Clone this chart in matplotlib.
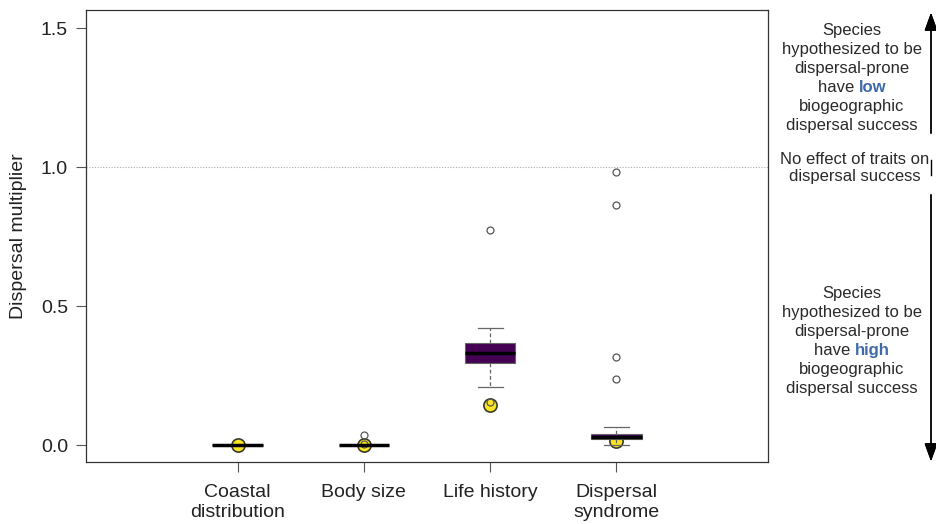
import matplotlib.pyplot as plt
from matplotlib.offsetbox import TextArea, HPacker, VPacker, AnnotationBbox

plt.rcParams['font.family'] = ['Liberation Sans', 'DejaVu Sans']

# summary stats
groups = ["Coastal\ndistribution", "Body size", "Life history", "Dispersal\nsyndrome"]
q1 = [0.0, 0.0, 0.295, 0.022]
med = [0.0, 0.0, 0.332, 0.030]
q3 = [0.0, 0.0, 0.368, 0.040]
whislo = [0.0, 0.0, 0.209, 0.0]
whishi = [0.0, 0.0, 0.421, 0.064]
fliers = [[], [0.035, 0.003], [0.772, 0.155], [0.983, 0.862, 0.315, 0.239]]
observed = [[0.0], [0.0], [0.145], [0.015]]

pos = list(range(1, len(groups) + 1))

fig = plt.figure(figsize=(9.36, 5.24), dpi=100)
ax = fig.add_axes([86/936, 62/524, (768-86)/936, (462-10)/524])

# observed values (yellow points), under the boxes
for p, vals in zip(pos, observed):
    ax.plot([p]*len(vals), vals, 'o', ms=9.5, mfc='#FDE725', mec='#3a3a2a',
            mew=1.2, zorder=1)

stats = []
for i in range(len(groups)):
    stats.append(dict(med=med[i], q1=q1[i], q3=q3[i], whislo=whislo[i],
                      whishi=whishi[i], fliers=fliers[i]))

ax.bxp(stats, positions=pos, widths=0.4, patch_artist=True,
       boxprops=dict(facecolor='#440154', edgecolor='#666666', lw=0.8),
       medianprops=dict(color='black', lw=2.5),
       whiskerprops=dict(color='#666666', lw=0.9, ls=(0, (3, 2))),
       capprops=dict(color='#666666', lw=0.9),
       flierprops=dict(marker='o', mfc='none', mec='#555555', ms=5, mew=0.9),
       capwidths=0.2, zorder=2)

ax.axhline(1.0, color='#aaaaaa', lw=0.8, ls=(0, (1, 1.5)), zorder=0)

ax.set_xlim(-0.2, 5.2)
ax.set_ylim(-0.061, 1.565)
ax.set_yticks([0.0, 0.5, 1.0, 1.5])
ax.set_yticklabels(["0.0", "0.5", "1.0", "1.5"])
ax.set_xticks(pos)
ax.set_xticklabels(groups)
ax.tick_params(axis='both', labelsize=14, colors='#222222', length=7,
               width=0.8, color='#555555')
ax.tick_params(axis='x', pad=9)
ax.tick_params(axis='y', pad=6)
ax.set_ylabel("Dispersal multiplier", fontsize=14, color='#222222', labelpad=10)
for s in ax.spines.values():
    s.set_color('#333333')
    s.set_linewidth(0.9)


def block(x, y, lines, word):
    rows = []
    for ln in lines:
        if ln == "have":
            rows.append(HPacker(children=[
                TextArea("have ", textprops=dict(fontsize=12, color='#2a2a2a')),
                TextArea(word, textprops=dict(fontsize=12, color='#3d6aa8',
                                              fontweight='bold'))],
                align='baseline', pad=0, sep=0))
        else:
            rows.append(TextArea(ln, textprops=dict(fontsize=12, color='#2a2a2a')))
    box = VPacker(children=rows, align='center', pad=0, sep=3)
    ab = AnnotationBbox(box, (x, y), xycoords='figure pixels', frameon=False,
                        box_alignment=(0.5, 0.5))
    fig.add_artist(ab)


H = 524
lines = ["Species", "hypothesized to be", "dispersal-prone", "have",
         "biogeographic", "dispersal success"]
block(852, H - 78, lines, "low")
block(852, H - 341, lines, "high")
mid = TextArea("No effect of traits on\ndispersal success",
               textprops=dict(fontsize=12, color='#2a2a2a', ha='center',
                              multialignment='center', linespacing=1.25))
fig.add_artist(AnnotationBbox(mid, (855, H - 168), xycoords='figure pixels',
                              frameon=False, box_alignment=(0.5, 0.5)))

# side arrows
arr = dict(arrowstyle='-|>,head_length=1.1,head_width=0.4', color='black', lw=1)
fig.add_artist(plt.annotate("", xy=(931, H - 10), xytext=(931, H - 136),
                            xycoords='figure pixels', textcoords='figure pixels',
                            arrowprops=arr))
fig.add_artist(plt.annotate("", xy=(931, H - 464), xytext=(931, H - 192),
                            xycoords='figure pixels', textcoords='figure pixels',
                            arrowprops=arr))
fig.add_artist(plt.Line2D([931/936, 931/936], [(H - 160)/H, (H - 175)/H],
                          color='black', lw=1, transform=fig.transFigure))

fig.savefig("out.png", dpi=100)
